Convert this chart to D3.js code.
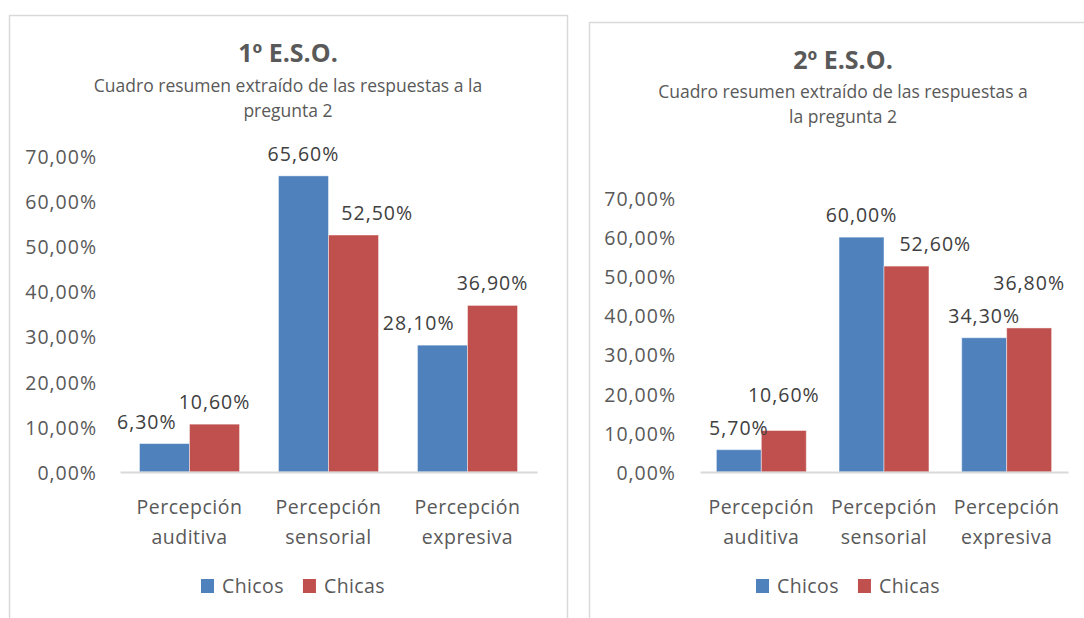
<!DOCTYPE html>
<html>
<head>
<meta charset="utf-8">
<script src="https://cdn.jsdelivr.net/npm/d3@7"></script>
<style>
  html, body { margin: 0; padding: 0; background: #fff; }
  svg { display: block; font-family: "Open Sans", "Noto Sans", sans-serif; }
</style>
</head>
<body>
<svg id="chart" width="1084" height="618"></svg>
<script>
// ---------- DATA ----------
const categories = ["Percepción auditiva", "Percepción sensorial", "Percepción expresiva"];
const seriesNames = ["Chicos", "Chicas"];
const chicos1 = [0.063, 0.656, 0.281];
const chicas1 = [0.106, 0.525, 0.369];
const chicos2 = [0.057, 0.600, 0.343];
const chicas2 = [0.106, 0.526, 0.368];
const yTicks = [0, 0.1, 0.2, 0.3, 0.4, 0.5, 0.6, 0.7];
const titles = ["1º E.S.O.", "2º E.S.O."];
const subtitles1 = ["Cuadro resumen extraído de las respuestas a la", "pregunta 2"];
const subtitles2 = ["Cuadro resumen extraído de las respuestas a", "la pregunta 2"];

// ---------- STYLE / LAYOUT ----------
const colors = ["#4F81BD", "#C0504D"];
const textColor = "#595959";
const labelColor = "#404040";
const fontSize = 19.5;
const numSpacing = 1;

const locale = d3.formatLocale({ decimal: ",", thousands: ".", grouping: [3], currency: ["", "€"] });
const pct = locale.format(".2%");

const panels = [
  {
    title: titles[0], subtitle: subtitles1, series: [chicos1, chicas1],
    frame: { x: 9, y: 15, w: 558, h: 640 },
    cx: 288, titleY: 62, subY: 92, subGap: 25,
    x0: 120, x1: 537, yBase: 472, yTop: 156, padIn: 0.28,
    yLabelX: 97, catY: 514, legendY: 586, legendCx: 293,
    avoid: ["h", "h", "h"]
  },
  {
    title: titles[1], subtitle: subtitles2, series: [chicos2, chicas2],
    frame: { x: 589, y: 22, w: 600, h: 640 },
    cx: 843, titleY: 69, subY: 98, subGap: 25,
    x0: 700, x1: 1068, yBase: 472, yTop: 198, padIn: 0.267,
    yLabelX: 676, catY: 514, legendY: 586, legendCx: 848,
    avoid: ["v", "h", "v"]
  }
];

const svg = d3.select("#chart");

panels.forEach(p => {
  const g = svg.append("g");

  // frame
  g.append("rect")
    .attr("x", p.frame.x + 0.5).attr("y", p.frame.y + 0.5)
    .attr("width", p.frame.w).attr("height", p.frame.h)
    .attr("fill", "#fff").attr("stroke", "#D9D9D9").attr("stroke-width", 1.5);

  // title
  g.append("text")
    .attr("x", p.cx).attr("y", p.titleY)
    .attr("text-anchor", "middle")
    .attr("font-size", 25).attr("font-weight", "bold")
    .attr("fill", textColor)
    .text(p.title);

  p.subtitle.forEach((s, i) => {
    g.append("text")
      .attr("x", p.cx).attr("y", p.subY + i * p.subGap)
      .attr("text-anchor", "middle")
      .attr("font-size", 17.5)
      .attr("fill", textColor)
      .text(s);
  });

  // scales
  const y = d3.scaleLinear().domain([0, 0.7]).range([p.yBase, p.yTop]);
  const x = d3.scaleBand().domain(categories).range([p.x0, p.x1])
    .paddingInner(p.padIn).paddingOuter(p.padIn / 2);
  const xs = d3.scaleBand().domain(seriesNames).range([0, x.bandwidth()]);

  // y axis labels (no line, no ticks)
  const yAxis = d3.axisLeft(y).tickValues(yTicks).tickFormat(pct).tickSize(0).tickPadding(0);
  const ya = g.append("g").attr("transform", `translate(${p.yLabelX},0)`).call(yAxis);
  ya.select(".domain").remove();
  ya.selectAll("text")
    .attr("font-family", "'Open Sans', sans-serif")
    .attr("font-size", fontSize).attr("fill", textColor)
    .attr("letter-spacing", numSpacing)
    .attr("dy", "0.38em");

  // bars
  const data = [];
  categories.forEach((c, ci) => {
    seriesNames.forEach((s, si) => {
      data.push({ c, ci, s, si, v: p.series[si][ci] });
    });
  });

  g.selectAll("rect.bar").data(data).join("rect")
    .attr("class", "bar")
    .attr("x", d => x(d.c) + xs(d.s))
    .attr("y", d => y(d.v))
    .attr("width", xs.bandwidth())
    .attr("height", d => y(0) - y(d.v))
    .attr("fill", d => colors[d.si])
    .attr("stroke", "rgba(255,255,255,0.45)")
    .attr("stroke-width", 1);

  // baseline axis
  const xAxis = d3.axisBottom(x).tickSize(0).tickFormat("");
  const xa = g.append("g").attr("transform", `translate(0,${p.yBase})`).call(xAxis);
  xa.select(".domain").attr("stroke", "#D9D9D9").attr("stroke-width", 2);

  // category labels (wrapped in two lines)
  categories.forEach(c => {
    const words = c.split(" ");
    const t = g.append("text")
      .attr("x", x(c) + x.bandwidth() / 2).attr("y", p.catY)
      .attr("text-anchor", "middle")
      .attr("font-size", fontSize).attr("fill", textColor)
      .attr("letter-spacing", 0.5);
    words.forEach((w, i) => {
      t.append("tspan").attr("x", x(c) + x.bandwidth() / 2)
        .attr("dy", i === 0 ? 0 : 30).text(w);
    });
  });

  // data labels
  const labels = g.selectAll("text.dl").data(data).join("text")
    .attr("class", "dl")
    .attr("text-anchor", "middle")
    .attr("font-size", fontSize).attr("fill", labelColor)
    .attr("letter-spacing", numSpacing)
    .attr("dy", "0.36em")
    .text(d => pct(d.v));

  labels.each(function (d) {
    d.w = this.getComputedTextLength();
    d.lx = x(d.c) + xs(d.s) + xs.bandwidth() / 2;
    d.ly = y(d.v) - 22;
  });

  // simple collision avoidance per category
  categories.forEach((c, ci) => {
    const pair = data.filter(d => d.ci === ci);
    const [a, b] = pair; // a: Chicos (left), b: Chicas (right)
    const lo = a.v <= b.v ? a : b;
    const hi = lo === a ? b : a;
    if (p.avoid[ci] === "h") {
      const overlap = (a.lx + a.w / 2) - (b.lx - b.w / 2) + 2;
      if (overlap > 0) {
        if (lo === a) a.lx -= overlap; else b.lx += overlap;
      }
    } else {
      const sep = 33;
      if (lo.ly - hi.ly < sep) hi.ly = lo.ly - sep;
    }
  });

  labels.attr("x", d => d.lx).attr("y", d => d.ly);

  // legend
  const lg = g.append("g");
  let cursor = 0;
  seriesNames.forEach((s, i) => {
    const it = lg.append("g");
    it.append("rect").attr("x", cursor).attr("y", -7).attr("width", 13).attr("height", 14)
      .attr("fill", colors[i]);
    const t = it.append("text").attr("x", cursor + 21).attr("y", 0).attr("dy", "0.36em")
      .attr("font-size", fontSize).attr("fill", textColor).attr("letter-spacing", 0.4)
      .text(s);
    cursor += 21 + t.node().getComputedTextLength() + 19;
  });
  const total = cursor - 19;
  lg.attr("transform", `translate(${p.legendCx - total / 2},${p.legendY})`);
});
</script>
</body>
</html>
